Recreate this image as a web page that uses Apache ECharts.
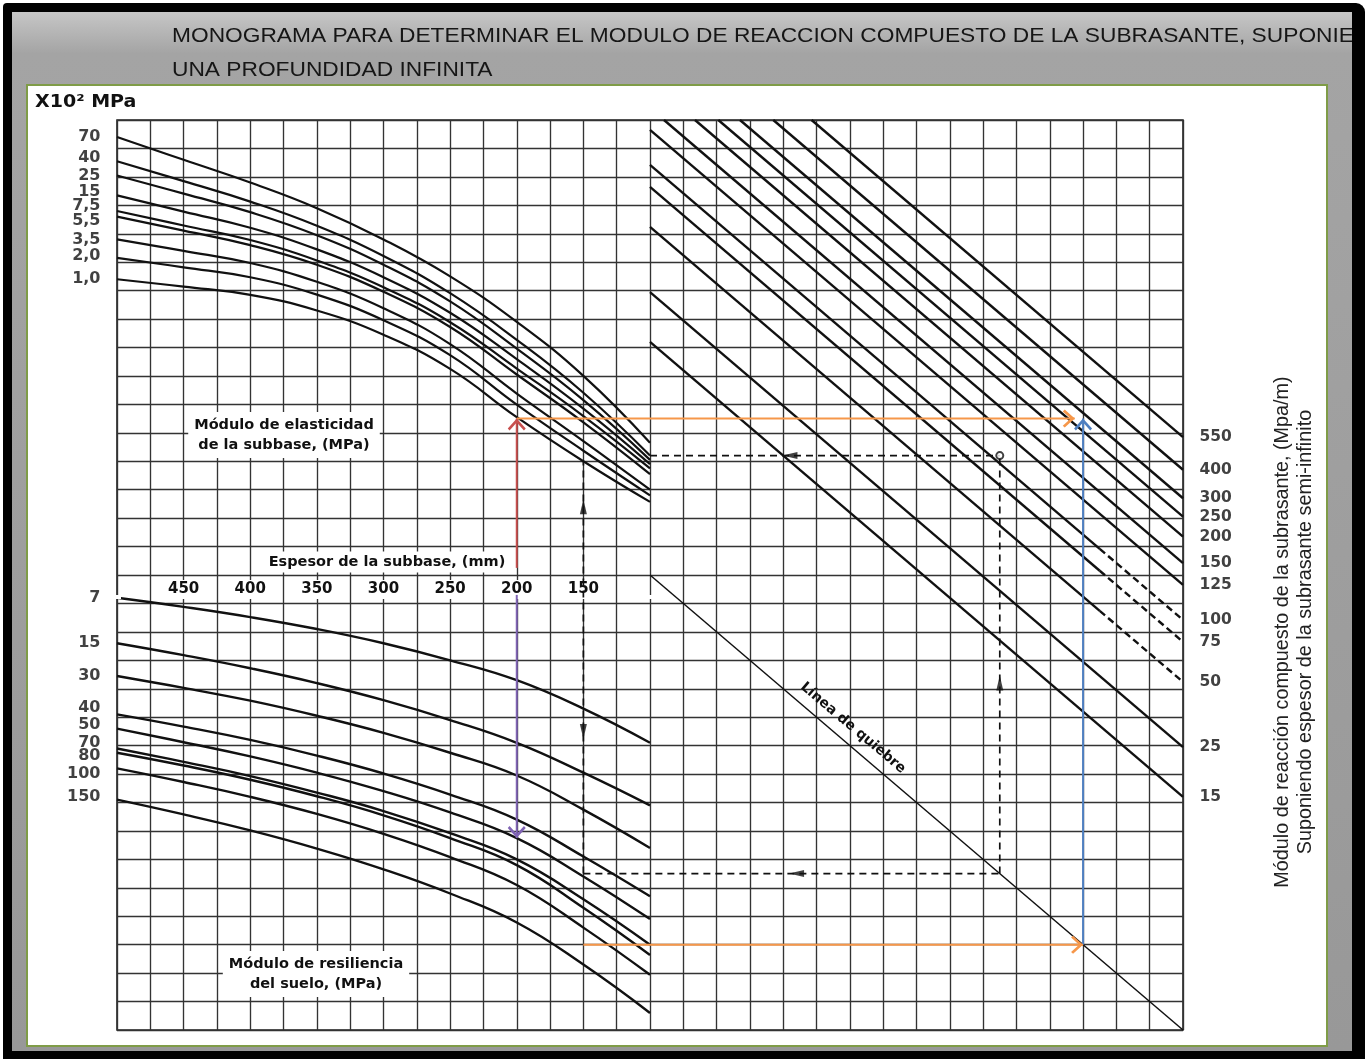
<!DOCTYPE html>
<html>
<head>
<meta charset="utf-8">
<script src="https://cdn.jsdelivr.net/npm/echarts@6/dist/echarts.min.js"></script>
<style>
  html, body { margin: 0; padding: 0; background: #fff; }
  #chart { width: 1365px; height: 1059px; }
</style>
</head>
<body>
<div id="chart"></div>
<script>
// Nomogram drawn on a 32 x 32 cell sheet: x counts columns from the left border,
// y counts rows from the top border.

// Módulo de elasticidad de la subbase (x10^2 MPa), upper-left panel
const elasticityLabels = ['70', '40', '25', '15', '7,5', '5,5', '3,5', '2,0', '1,0'];
const elasticityCurves = [
  [[0, 0.6], [2, 1.4], [4, 2.2], [6, 3.1], [8, 4.2], [10, 5.5], [12, 7.1], [14, 9.0], [16, 11.35]],
  [[0, 1.45], [2, 2.15], [4, 2.87], [6, 3.72], [8, 4.78], [10, 6.09], [12, 7.73], [14, 9.59], [16, 11.8]],
  [[0, 1.95], [2, 2.59], [4, 3.24], [6, 4.05], [8, 5.09], [10, 6.38], [12, 8.04], [14, 9.85], [16, 11.95]],
  [[0, 2.65], [2, 3.22], [4, 3.79], [6, 4.55], [8, 5.53], [10, 6.78], [12, 8.41], [14, 10.15], [16, 12.1]],
  [[0, 3.2], [2, 3.71], [4, 4.22], [6, 4.94], [8, 5.88], [10, 7.11], [12, 8.74], [14, 10.41], [16, 12.25]],
  [[0, 3.4], [2, 3.89], [4, 4.4], [6, 5.09], [8, 6.04], [10, 7.28], [12, 8.95], [14, 10.63], [16, 12.45]],
  [[0, 4.2], [2, 4.6], [4, 5.03], [6, 5.69], [8, 6.62], [10, 7.88], [12, 9.62], [14, 11.29], [16, 13.0]],
  [[0, 4.85], [2, 5.18], [4, 5.53], [6, 6.14], [8, 7.04], [10, 8.27], [12, 10.01], [14, 11.63], [16, 13.2]],
  [[0, 5.6], [2, 5.86], [4, 6.15], [6, 6.7], [8, 7.55], [10, 8.75], [12, 10.45], [14, 12.0], [16, 13.43]]
];

// Módulo de resiliencia del suelo (MPa), lower-left panel
const resilienceLabels = ['7', '15', '30', '40', '50', '70', '80', '100', '150'];
const resilienceCurves = [
  [[0, 16.8], [2, 17.12], [4, 17.48], [6, 17.9], [8, 18.4], [10, 19.0], [12, 19.7], [14, 20.7], [16, 21.9]],
  [[0, 18.4], [2, 18.82], [4, 19.28], [6, 19.8], [8, 20.4], [10, 21.1], [12, 21.9], [14, 22.95], [16, 24.1]],
  [[0, 19.55], [2, 19.97], [4, 20.42], [6, 20.95], [8, 21.55], [10, 22.25], [12, 23.05], [14, 24.25], [16, 25.6]],
  [[0, 20.9], [2, 21.33], [4, 21.8], [6, 22.35], [8, 22.98], [10, 23.72], [12, 24.6], [14, 25.9], [16, 27.3]],
  [[0, 21.4], [2, 21.88], [4, 22.38], [6, 22.95], [8, 23.6], [10, 24.35], [12, 25.25], [14, 26.6], [16, 28.1]],
  [[0, 22.1], [2, 22.57], [4, 23.07], [6, 23.65], [8, 24.3], [10, 25.08], [12, 26.0], [14, 27.4], [16, 29.0]],
  [[0, 22.25], [2, 22.7], [4, 23.2], [6, 23.78], [8, 24.45], [10, 25.25], [12, 26.2], [14, 27.7], [16, 29.36]],
  [[0, 22.8], [2, 23.28], [4, 23.8], [6, 24.4], [8, 25.1], [10, 25.92], [12, 26.9], [14, 28.4], [16, 30.06]],
  [[0, 23.9], [2, 24.42], [4, 24.98], [6, 25.62], [8, 26.35], [10, 27.2], [12, 28.22], [14, 29.7], [16, 31.4]]
];

// Módulo de reacción compuesto (MPa/m), straight lines of the right panel
const reactionLabels = ['550', '400', '300', '250', '200', '150', '125', '100', '75', '50', '25', '15'];
const reactionLines = [
  [[20.85, 0], [32, 11.15]],
  [[19.7, 0], [32, 12.3]],
  [[18.7, 0], [32, 13.3]],
  [[18.05, 0], [32, 13.95]],
  [[17.35, 0], [32, 14.65]],
  [[16.42, 0], [32, 15.58]],
  [[16, 0.35], [32, 16.35]],
  [[16, 1.58], [32, 17.58]],
  [[16, 2.35], [32, 18.35]],
  [[16, 3.76], [32, 19.76]],
  [[16, 6.05], [32, 22.05]],
  [[16, 7.8], [32, 23.8]]
];
// points where a line turns dashed
const reactionBreaks = { '100': [29.5, 15.08], '75': [29.5, 15.85], '50': [29.5, 17.26] };

// Línea de quiebre
const turningLine = [[16, 16], [32, 32]];

// Espesor de la subbase (mm)
const thicknessTicks = [450, 400, 350, 300, 250, 200, 150];

// worked example (coloured arrows)
const pathRed = [[12, 15.75], [12, 10.5]];
const pathOrangeTop = [[12, 10.5], [28.75, 10.5]];
const pathBlue = [[29, 29], [29, 10.5]];
const pathPurple = [[12, 16.7], [12, 25.25]];
const pathOrangeBottom = [[14, 29], [29, 29]];

// worked example (dashed guides)
const guideThickness = [[14, 26.5], [14, 12.0]];
const guideTop = [[16, 11.8], [26.5, 11.8]];
const guideBreak = [[26.5, 26.5], [26.5, 11.8]];
const guideBottom = [[14, 26.5], [26.5, 26.5]];
const guideArrows = [
  { at: [20.2, 11.8], dir: 'left' },
  { at: [14, 13.6], dir: 'up' },
  { at: [14, 21.5], dir: 'down' },
  { at: [26.5, 19.8], dir: 'up' },
  { at: [20.4, 26.5], dir: 'left' }
];
const guidePoint = [26.5, 11.8];

const INK = '#111';
const BOLD_FONT = 'DejaVu Sans';
const CHEVRON = 'path://M10,0 L20,10 L18,12 L10,4 L2,12 L0,10 Z';
const ROT = { up: 0, down: 180, right: -90, left: 90 };

// small vertical nudges that keep crowded curve names apart (px)
const labelNudge = {
  elasticity: { '40': -3, '15': -4, '7,5': -5, '5,5': 4, '2,0': -2 },
  resilience: { '40': -7, '50': -4, '70': -6, '80': 3, '100': 5, '150': -3 }
};

function curveSeries(points, width) {
  return {
    type: 'line', data: points, smooth: 0.45,
    symbol: 'none', silent: true, z: 3,
    lineStyle: { color: INK, width: width }
  };
}

function plainLine(points, style, z) {
  return { type: 'line', data: points, symbol: 'none', silent: true, z: z || 4, lineStyle: style };
}

function arrowSeries(points, color, dir) {
  const off = { up: [0, 6], down: [0, -6], right: [-6, 0], left: [6, 0] }[dir];
  const data = points.map(function (p, i) {
    if (i === points.length - 1) {
      return { value: p, symbol: CHEVRON, symbolSize: [18, 12], symbolRotate: ROT[dir], symbolOffset: off };
    }
    return { value: p, symbol: 'none' };
  });
  return {
    type: 'line', data: data, showSymbol: true, symbol: 'none', silent: true, z: 6,
    lineStyle: { color: color, width: 2 },
    itemStyle: { color: color, borderWidth: 0 }
  };
}

function nameLabels(points, names, side, nudge) {
  return {
    type: 'scatter', silent: true, z: 8,
    data: points.map(function (p, i) {
      return { value: p, name: names[i], label: { offset: [0, (nudge && nudge[names[i]]) || 0] } };
    }),
    symbolSize: 1, itemStyle: { color: 'transparent' },
    label: {
      show: true, position: side, distance: 16, formatter: '{b}',
      fontFamily: BOLD_FONT, fontWeight: 'bold', fontSize: side === 'left' ? 16 : 15.5, color: INK
    }
  };
}

const series = [];
elasticityCurves.forEach(function (c) { series.push(curveSeries(c, 2.2)); });
resilienceCurves.forEach(function (c) { series.push(curveSeries(c, 2.4)); });

reactionLines.forEach(function (line, i) {
  const brk = reactionBreaks[reactionLabels[i]];
  series.push(plainLine([line[0], brk || line[1]], { color: INK, width: 2.4 }));
  if (brk) series.push(plainLine([brk, line[1]], { color: INK, width: 2.4, type: [7, 4] }));
});
series.push(plainLine(turningLine, { color: INK, width: 1.5 }));

[guideThickness, guideTop, guideBreak, guideBottom].forEach(function (g) {
  series.push(plainLine(g, { color: INK, width: 1.7, type: [7, 5] }, 5));
});
series.push({
  type: 'scatter', silent: true, z: 6,
  data: guideArrows.map(function (a) { return { value: a.at, symbolRotate: ROT[a.dir] }; }),
  symbol: 'triangle', symbolSize: [7, 15], itemStyle: { color: INK }
});
series.push({
  type: 'scatter', silent: true, z: 6, data: [guidePoint],
  symbol: 'emptyCircle', symbolSize: 7, itemStyle: { color: INK, borderColor: INK, borderWidth: 1.5 }
});

series.push(arrowSeries(pathRed, '#c8504f', 'up'));
series.push(arrowSeries(pathOrangeTop, '#f6974a', 'right'));
series.push(arrowSeries(pathBlue, '#4f7fc0', 'up'));
series.push(arrowSeries(pathPurple, '#8064b4', 'down'));
series.push(arrowSeries(pathOrangeBottom, '#f6974a', 'right'));

series.push(nameLabels(elasticityCurves.map(function (c) { return c[0]; }), elasticityLabels, 'left', labelNudge.elasticity));
series.push(nameLabels(resilienceCurves.map(function (c) { return c[0]; }), resilienceLabels, 'left', labelNudge.resilience));
series.push(nameLabels(reactionLines.map(function (l) { return l[1]; }), reactionLabels, 'right', null));

const sheetAxis = {
  type: 'value', min: 0, max: 32, interval: 1,
  axisLabel: { show: false }, axisTick: { show: false }, axisLine: { show: false },
  splitLine: { show: true, lineStyle: { color: '#333', width: 1.35 } }
};

const titleFont = '21px "Liberation Sans", Arial, sans-serif';
const boxFont = 'bold 14.5px "DejaVu Sans", sans-serif';
const sideFont = '19.8px "Liberation Sans", Arial, sans-serif';

const option = {
  animation: false,
  backgroundColor: '#fff',
  grid: [
    { left: 117, top: 120, width: 1066, height: 910, show: true, borderColor: '#222', borderWidth: 1.6, backgroundColor: 'transparent' },
    { left: 117, top: 120, width: 533, height: 483, show: false }
  ],
  xAxis: [
    Object.assign({ gridIndex: 0 }, sheetAxis),
    {
      gridIndex: 1, type: 'value', min: 100, max: 500, interval: 50, inverse: true, position: 'bottom', z: 5,
      axisLine: { show: false }, axisTick: { show: false }, splitLine: { show: false },
      axisLabel: {
        inside: true, margin: 4, fontFamily: BOLD_FONT, fontWeight: 'bold', fontSize: 15, color: INK,
        backgroundColor: '#fff', padding: [2, 4],
        formatter: function (v) { return thicknessTicks.indexOf(v) >= 0 ? String(v) : ''; }
      }
    }
  ],
  yAxis: [
    Object.assign({ gridIndex: 0, inverse: true }, sheetAxis),
    { gridIndex: 1, type: 'value', min: 0, max: 1, show: false }
  ],
  series: series,
  graphic: [
    { type: 'rect', z: -10, shape: { x: 3, y: 3, width: 1362, height: 1056, r: [4, 9, 0, 0] }, style: { fill: '#000' } },
    { type: 'rect', z: -9, shape: { x: 12, y: 12, width: 1340, height: 1039 },
      style: { fill: { type: 'linear', x: 0, y: 0, x2: 0, y2: 1,
        colorStops: [{ offset: 0, color: '#c6c6c6' }, { offset: 0.04, color: '#a4a4a4' }, { offset: 1, color: '#989898' }] } } },
    { type: 'rect', z: -8, shape: { x: 27, y: 85, width: 1300, height: 961 }, style: { fill: '#fff', stroke: '#7f9c47', lineWidth: 2 } },
    { type: 'text', z: -7, x: 172, y: 36, scaleX: 1.083,
      style: { text: 'MONOGRAMA PARA DETERMINAR EL MODULO DE REACCION COMPUESTO DE LA SUBRASANTE, SUPONIENDO', font: titleFont, fill: '#161616', verticalAlign: 'middle' } },
    { type: 'text', z: -7, x: 172, y: 70, scaleX: 1.083,
      style: { text: 'UNA PROFUNDIDAD INFINITA', font: titleFont, fill: '#161616', verticalAlign: 'middle' } },
    { type: 'rect', z: -6, shape: { x: 1352, y: 12, width: 13, height: 1047 }, style: { fill: '#000' } },
    { type: 'text', z: 50, x: 35, y: 103, scaleX: 1.12,
      style: { text: 'X10² MPa', font: 'bold 17px "DejaVu Sans", sans-serif', fill: INK, verticalAlign: 'middle' } },
    { type: 'text', z: 50, x: 284, y: 435,
      style: { text: 'Módulo de elasticidad\nde la subbase, (MPa)', font: boxFont, fill: INK, align: 'center', verticalAlign: 'middle',
        lineHeight: 20, backgroundColor: '#fff', padding: [3, 6] } },
    { type: 'text', z: 50, x: 387, y: 562,
      style: { text: 'Espesor de la subbase, (mm)', font: boxFont, fill: INK, align: 'center', verticalAlign: 'middle',
        backgroundColor: '#fff', padding: [3, 6] } },
    { type: 'text', z: 50, x: 316, y: 974,
      style: { text: 'Módulo de resiliencia\ndel suelo, (MPa)', font: boxFont, fill: INK, align: 'center', verticalAlign: 'middle',
        lineHeight: 20, backgroundColor: '#fff', padding: [3, 6] } },
    { type: 'text', z: 50, x: 853, y: 728, rotation: -0.70,
      style: { text: 'Línea de quiebre', font: 'bold 14px "DejaVu Sans", sans-serif', fill: INK, align: 'center', verticalAlign: 'middle' } },
    { type: 'text', z: 50, x: 1283, y: 632, rotation: Math.PI / 2,
      style: { text: 'Módulo de reacción compuesto de la subrasante, (Mpa/m)', font: sideFont,
        fill: '#222', align: 'center', verticalAlign: 'middle' } },
    { type: 'text', z: 50, x: 1306, y: 632, rotation: Math.PI / 2,
      style: { text: 'Suponiendo espesor de la subrasante semi-infinito', font: sideFont,
        fill: '#222', align: 'center', verticalAlign: 'middle' } }
  ]
};

const chart = echarts.init(document.getElementById('chart'), null, { renderer: 'canvas' });
chart.setOption(option);
</script>
</body>
</html>
